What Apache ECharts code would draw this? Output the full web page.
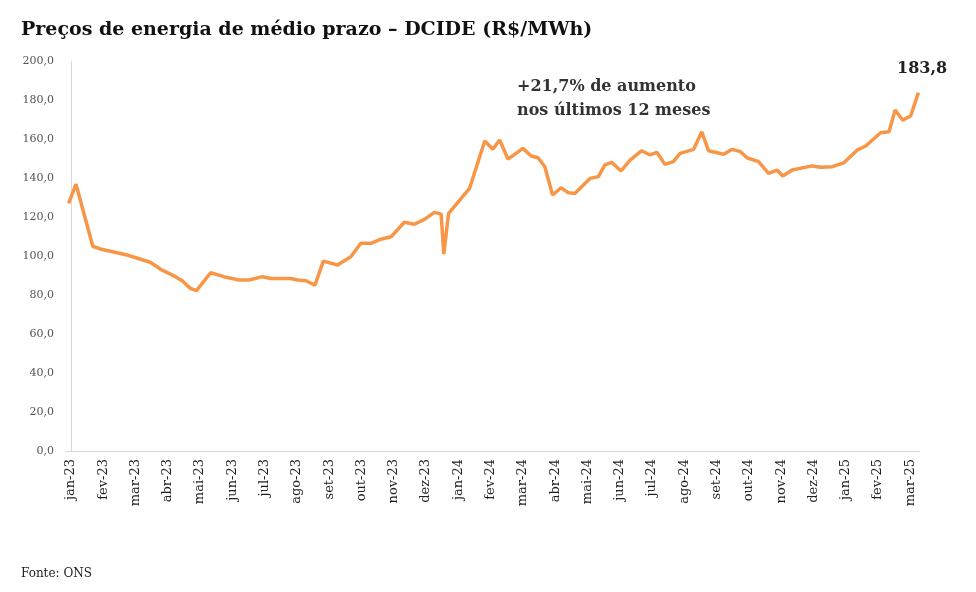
<!DOCTYPE html>
<html>
<head>
<meta charset="utf-8">
<script src="https://cdn.jsdelivr.net/npm/echarts@6/dist/echarts.min.js"></script>
<style>
html, body { margin: 0; padding: 0; background: #fff; }
#chart { width: 976px; height: 592px; }
</style>
</head>
<body>
<div id="chart"></div>
<script>
// Month labels (axis position = index)
var months = ['jan-23', 'fev-23', 'mar-23', 'abr-23', 'mai-23', 'jun-23', 'jul-23', 'ago-23', 'set-23',
    'out-23', 'nov-23', 'dez-23', 'jan-24', 'fev-24', 'mar-24', 'abr-24', 'mai-24', 'jun-24', 'jul-24',
    'ago-24', 'set-24', 'out-24', 'nov-24', 'dez-24', 'jan-25', 'fev-25', 'mar-25'];
// Position of each observation, in months from jan-23
var pos = [-0.07, 0.16, 0.68, 0.91, 1.74, 2.46, 2.77, 3.24, 3.45, 3.7, 3.89, 4.33, 4.74, 5.21, 5.52,
    5.93, 6.19, 6.81, 7.02, 7.28, 7.56, 7.82, 8.26, 8.67, 8.98, 9.3, 9.6, 9.92, 10.33, 10.64, 10.95,
    11.26, 11.47, 11.55, 11.7, 12.35, 12.82, 13.07, 13.28, 13.54, 14.0, 14.26, 14.47, 14.68, 14.92,
    15.18, 15.4, 15.61, 16.08, 16.34, 16.54, 16.75, 17.04, 17.32, 17.68, 17.94, 18.15, 18.4, 18.66,
    18.87, 19.29, 19.54, 19.75, 20.22, 20.48, 20.74, 20.94, 21.3, 21.61, 21.87, 22.05, 22.34, 22.96,
    23.22, 23.58, 23.94, 24.36, 24.62, 25.08, 25.34, 25.53, 25.76, 26.01, 26.25];
// DCIDE price (R$/MWh)
var price = [127, 136.8, 105, 103.6, 100.5, 96.8, 93.3, 89.4, 87.3, 83.4, 82.2, 91.4, 89.4, 87.7, 87.7,
    89.4, 88.5, 88.5, 87.7, 87.3, 85.1, 97.4, 95.4, 99.6, 106.5, 106.5, 108.6, 109.9, 117.3, 116.3, 118.8,
    122.4, 121.5, 101, 121.9, 134.7, 159, 154.7, 159.5, 149.7, 155.2, 151.3, 150.4, 145.8, 131.3,
    135, 132.5, 132.1, 139.8, 140.7, 146.7, 148, 143.6, 149.2, 154, 151.8, 153.2, 147, 148.4,
    152.6, 154.7, 163.7, 154, 152.2, 154.7, 153.5, 150.4, 148.4, 142.4, 144.1, 141, 144.1, 146.2,
    145.5, 145.8, 147.8, 154.4, 156.4, 163.2, 163.7, 174.9, 169.7, 171.8, 183.8];

var data = [];
for (var i = 0; i < pos.length; i++) {
    data.push([pos[i], price[i]]);
}
var ticks = [];
for (var k = 0; k < months.length; k++) {
    ticks.push(k);
}

var chart = echarts.init(document.getElementById('chart'));
chart.setOption({
    animation: false,
    textStyle: { fontFamily: 'DejaVu Serif' },
    title: [{
        text: 'Preços de energia de médio prazo – DCIDE (R$/MWh)',
        left: 16,
        top: 16,
        textStyle: { fontSize: 19, fontWeight: 'bold', color: '#111', fontFamily: 'DejaVu Serif' }
    }, {
        text: 'Fonte: ONS',
        left: 16,
        top: 563,
        textStyle: { fontSize: 12, fontWeight: 'normal', color: '#222', fontFamily: 'DejaVu Serif' }
    }, {
        text: '+21,7% de aumento\nnos últimos 12 meses',
        left: 512,
        top: 70,
        textStyle: { fontSize: 16, fontWeight: 'bold', color: '#333', lineHeight: 24, fontFamily: 'DejaVu Serif' }
    }, {
        text: '183,8',
        left: 892,
        top: 56,
        textStyle: { fontSize: 16, fontWeight: 'bold', color: '#222', fontFamily: 'DejaVu Serif' }
    }],
    grid: { left: 66, right: 56, top: 61, bottom: 141 },
    xAxis: {
        type: 'value',
        min: -0.15,
        max: 26.3,
        splitLine: { show: false },
        axisLine: { lineStyle: { color: '#d9d9d9' } },
        axisTick: { show: false },
        axisLabel: {
            customValues: ticks,
            rotate: 90,
            fontSize: 13,
            color: '#222',
            margin: 8,
            formatter: function (v) { return months[Math.round(v)]; }
        }
    },
    yAxis: {
        type: 'value',
        min: 0,
        max: 200,
        interval: 20,
        splitLine: { show: false },
        axisLine: { show: true, lineStyle: { color: '#d9d9d9' } },
        axisTick: { show: false },
        axisLabel: {
            fontSize: 11,
            color: '#555',
            margin: 12,
            formatter: function (v) { return v.toFixed(1).replace('.', ','); }
        }
    },
    series: [{
        type: 'line',
        data: data,
        showSymbol: false,
        lineStyle: { color: '#f79646', width: 3.5 }
    }]
});
</script>
</body>
</html>
